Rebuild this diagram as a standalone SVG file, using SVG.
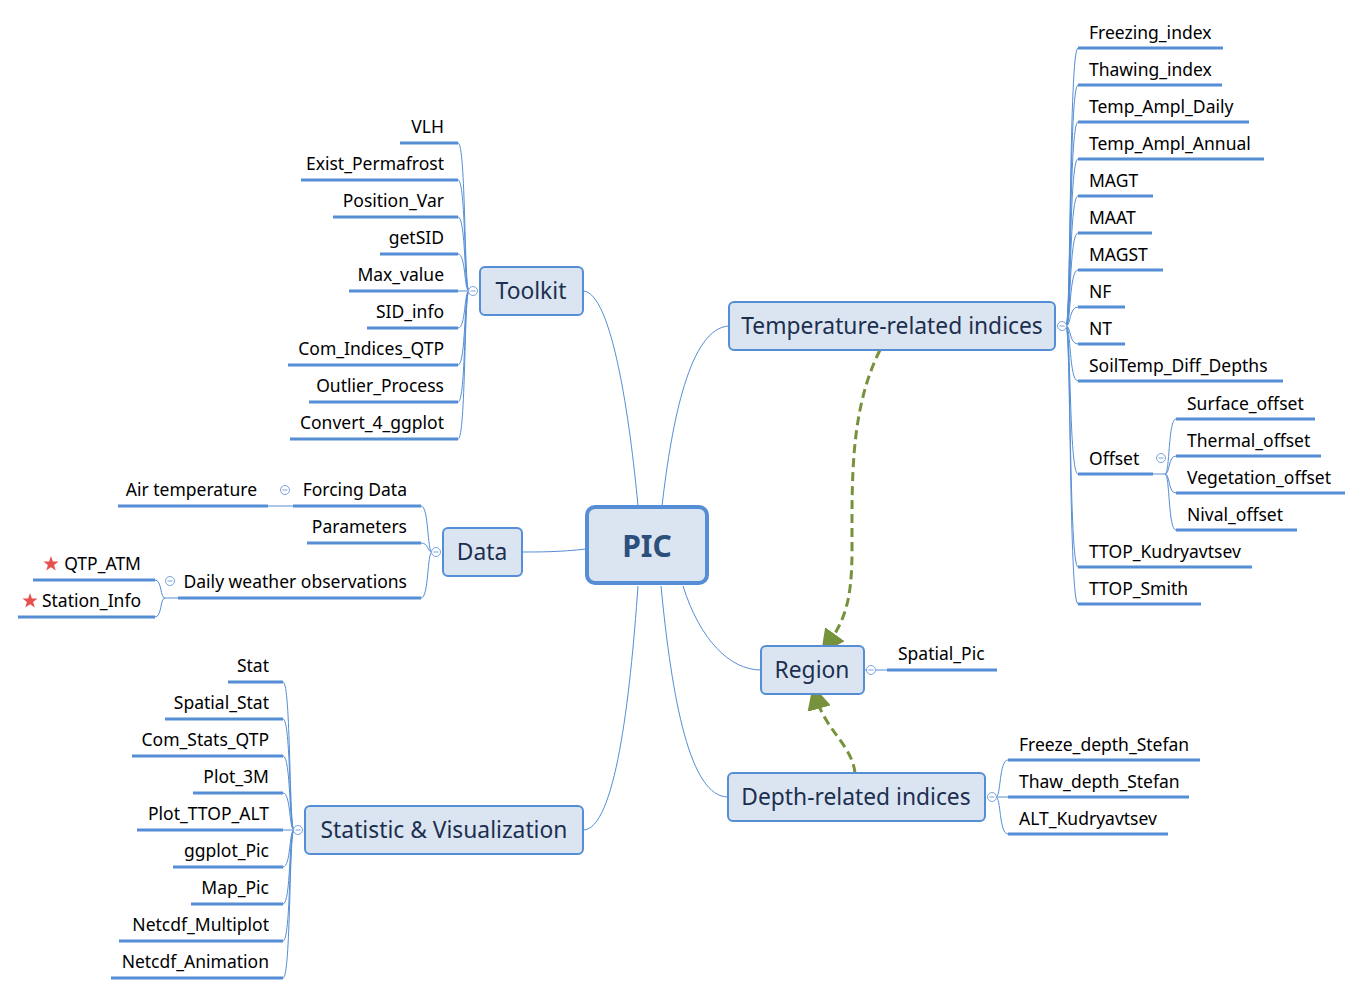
<svg xmlns="http://www.w3.org/2000/svg" width="1363" height="995" viewBox="0 0 1363 995">
<style>
.leaf{font-family:"Noto Sans","Open Sans","Liberation Sans",sans-serif;font-size:17.5px;fill:#000}
.topic{font-family:"Noto Sans","Open Sans","Liberation Sans",sans-serif;font-size:22.8px;fill:#1c2f4f}
.box{fill:#dbe5f1;stroke:#558ed5;stroke-width:2}
.ul{stroke:#558ed5;stroke-width:3;fill:none}
.cn{stroke:#558ed5;stroke-width:1;fill:none}
.col{fill:#fff;stroke:#7aa3dc;stroke-width:1}
.rel{stroke:#76923c;stroke-width:3;fill:none;stroke-dasharray:9 5}
.end{text-anchor:end}
</style>
<defs>
<marker id="ah" markerWidth="8" markerHeight="8" refX="4" refY="4" orient="auto" markerUnits="strokeWidth">
<path d="M0,0 L8,4 L0,8 Z" fill="#76923c"/>
</marker>
<g id="minus"><circle r="4.5" class="col"/><line x1="-2.5" y1="0" x2="2.5" y2="0" stroke="#7aa3dc" stroke-width="1"/></g>
<path id="star" d="M0,-8 L1.9,-2.6 L7.6,-2.5 L3.1,1 L4.7,6.5 L0,3.3 L-4.7,6.5 L-3.1,1 L-7.6,-2.5 L-1.9,-2.6 Z" fill="#e8504f"/>
</defs>
<rect width="1363" height="995" fill="#fff"/>

<g id="connectors">
<!-- main branches -->
<path class="cn" d="M638,506 C630,420 612,292 583,291"/>
<path class="cn" d="M662,506 C672,420 690,328 729,326"/>
<path class="cn" d="M586,549 C560,552 540,552 522,552"/>
<path class="cn" d="M683,586 C700,640 730,670 761,670"/>
<path class="cn" d="M661,586 C672,700 690,797 728,797"/>
<path class="cn" d="M638,586 C630,700 615,830 583,830"/>
<!-- relationships -->
<path class="rel" d="M880,350 C850,410 852,480 852,550 C852,600 845,620 828,644" marker-end="url(#ah)"/>
<path class="rel" d="M855,773 C852,745 825,730 816,697" marker-end="url(#ah)"/>
<!-- Toolkit -->
<path class="cn" d="M469,291 C464,291 466,143 458,143 M469,291 C464,291 466,180 458,180 M469,291 C464,291 466,217 458,217 M469,291 C464,291 466,254 458,254 M469,291 L458,291 M469,291 C464,291 466,328 458,328 M469,291 C464,291 466,365 458,365 M469,291 C464,291 466,402 458,402 M469,291 C464,291 466,439 458,439"/>
<!-- Data -->
<path class="cn" d="M432,552 C427,552 429,506 421,506 M432,552 C427,552 429,543 421,543 M432,552 C427,552 429,598 421,598 M268,506 L293,506"/>
<path class="cn" d="M178,598 L165,598 C160,598 162,580 155,580 M165,598 C160,598 162,617 155,617"/>
<!-- Stat -->
<path class="cn" d="M294,830 C289,830 291,682 283,682 M294,830 C289,830 291,719 283,719 M294,830 C289,830 291,756 283,756 M294,830 C289,830 291,793 283,793 M294,830 L283,830 M294,830 C289,830 291,867 283,867 M294,830 C289,830 291,904 283,904 M294,830 C289,830 291,941 283,941 M294,830 C289,830 291,978 283,978"/>
<!-- Temperature -->
<path class="cn" d="M1066,326 C1071,326 1069,48 1078,48 M1066,326 C1071,326 1069,85 1078,85 M1066,326 C1071,326 1069,122 1078,122 M1066,326 C1071,326 1069,159 1078,159 M1066,326 C1071,326 1069,196 1078,196 M1066,326 C1071,326 1069,233 1078,233 M1066,326 C1071,326 1069,270 1078,270 M1066,326 C1071,326 1069,307 1078,307 M1066,326 C1071,326 1069,344 1078,344 M1066,326 C1071,326 1069,381 1078,381 M1066,326 C1071,326 1069,474 1078,474 M1066,326 C1071,326 1069,567 1078,567 M1066,326 C1071,326 1069,604 1078,604"/>
<!-- Offset -->
<path class="cn" d="M1153,474 L1165,474 C1170,474 1168,419 1176,419 M1165,474 C1170,474 1168,456 1176,456 M1165,474 C1170,474 1168,493 1176,493 M1165,474 C1170,474 1168,530 1176,530"/>
<!-- Region -->
<path class="cn" d="M864,670 L887,670"/>
<!-- Depth -->
<path class="cn" d="M996,797 C1001,797 999,760 1008,760 M996,797 L1008,797 M996,797 C1001,797 999,834 1008,834"/>
</g>

<g id="PIC">
<rect x="587" y="507" width="120" height="76" rx="8" fill="#dbe5f1" stroke="#558ed5" stroke-width="4"/>
<text x="647" y="557" text-anchor="middle" style="font-family:'Noto Sans','Open Sans',sans-serif;font-size:30px;font-weight:bold;fill:#2c4f7c">PIC</text>
</g>

<g id="Toolkit">
<rect class="box" x="480" y="267" width="103" height="48" rx="5"/>
<text class="topic" x="531" y="299" text-anchor="middle">Toolkit</text>
<use href="#minus" x="473" y="291"/>
</g>
<g id="toolkit-children">
<path class="ul" d="M400,143H458 M301,180H458 M333,217H458 M380,254H458 M349,291H458 M367,328H458 M288,365H458 M309,402H458 M290,439H458"/>
<text class="leaf end" x="444" y="133">VLH</text>
<text class="leaf end" x="444" y="170">Exist_Permafrost</text>
<text class="leaf end" x="444" y="207">Position_Var</text>
<text class="leaf end" x="444" y="244">getSID</text>
<text class="leaf end" x="444" y="281">Max_value</text>
<text class="leaf end" x="444" y="318">SID_info</text>
<text class="leaf end" x="444" y="355">Com_Indices_QTP</text>
<text class="leaf end" x="444" y="392">Outlier_Process</text>
<text class="leaf end" x="444" y="429">Convert_4_ggplot</text>
</g>

<g id="Data">
<rect class="box" x="443" y="528" width="79" height="48" rx="5"/>
<text class="topic" x="482" y="560" text-anchor="middle">Data</text>
<use href="#minus" x="436" y="552"/>
</g>
<g id="data-children">
<path class="ul" d="M293,506H421 M118,506H268 M307,543H421 M178,598H421 M33,580H155 M18,617H155"/>
<text class="leaf end" x="407" y="496">Forcing Data</text>
<text class="leaf end" x="257" y="496">Air temperature</text>
<use href="#minus" x="285" y="490"/>
<text class="leaf end" x="407" y="533">Parameters</text>
<text class="leaf end" x="407" y="588">Daily weather observations</text>
<use href="#minus" x="170" y="581"/>
<use href="#star" x="51" y="564"/>
<text class="leaf end" x="141" y="570">QTP_ATM</text>
<use href="#star" x="30" y="601"/>
<text class="leaf end" x="141" y="607">Station_Info</text>
</g>

<g id="Stat">
<rect class="box" x="305" y="806" width="278" height="48" rx="5"/>
<text class="topic" x="444" y="838" text-anchor="middle">Statistic &amp; Visualization</text>
<use href="#minus" x="298" y="830"/>
</g>
<g id="stat-children">
<path class="ul" d="M228,682H283 M165,719H283 M132,756H283 M193,793H283 M137,830H283 M173,867H283 M191,904H283 M119,941H283 M111,978H283"/>
<text class="leaf end" x="269" y="672">Stat</text>
<text class="leaf end" x="269" y="709">Spatial_Stat</text>
<text class="leaf end" x="269" y="746">Com_Stats_QTP</text>
<text class="leaf end" x="269" y="783">Plot_3M</text>
<text class="leaf end" x="269" y="820">Plot_TTOP_ALT</text>
<text class="leaf end" x="269" y="857">ggplot_Pic</text>
<text class="leaf end" x="269" y="894">Map_Pic</text>
<text class="leaf end" x="269" y="931">Netcdf_Multiplot</text>
<text class="leaf end" x="269" y="968">Netcdf_Animation</text>
</g>

<g id="Temperature">
<rect class="box" x="729" y="302" width="326" height="48" rx="5"/>
<text class="topic" x="892" y="334" text-anchor="middle">Temperature-related indices</text>
<use href="#minus" x="1062" y="326"/>
</g>
<g id="temp-children">
<path class="ul" d="M1078,48H1223 M1078,85H1222 M1078,122H1249 M1078,159H1264 M1078,196H1153 M1078,233H1152 M1078,270H1163 M1078,307H1125 M1078,344H1125 M1078,381H1283 M1078,474H1153 M1078,567H1252 M1078,604H1201"/>
<text class="leaf" x="1089" y="39">Freezing_index</text>
<text class="leaf" x="1089" y="76">Thawing_index</text>
<text class="leaf" x="1089" y="113">Temp_Ampl_Daily</text>
<text class="leaf" x="1089" y="150">Temp_Ampl_Annual</text>
<text class="leaf" x="1089" y="187">MAGT</text>
<text class="leaf" x="1089" y="224">MAAT</text>
<text class="leaf" x="1089" y="261">MAGST</text>
<text class="leaf" x="1089" y="298">NF</text>
<text class="leaf" x="1089" y="335">NT</text>
<text class="leaf" x="1089" y="372">SoilTemp_Diff_Depths</text>
<text class="leaf" x="1089" y="465">Offset</text>
<use href="#minus" x="1161" y="458"/>
<text class="leaf" x="1089" y="558">TTOP_Kudryavtsev</text>
<text class="leaf" x="1089" y="595">TTOP_Smith</text>
</g>
<g id="offset-children">
<path class="ul" d="M1176,419H1315 M1176,456H1321 M1176,493H1345 M1176,530H1297"/>
<text class="leaf" x="1187" y="410">Surface_offset</text>
<text class="leaf" x="1187" y="447">Thermal_offset</text>
<text class="leaf" x="1187" y="484">Vegetation_offset</text>
<text class="leaf" x="1187" y="521">Nival_offset</text>
</g>

<g id="Region">
<rect class="box" x="761" y="646" width="103" height="48" rx="5"/>
<text class="topic" x="812" y="678" text-anchor="middle">Region</text>
<use href="#minus" x="871" y="670"/>
<path class="ul" d="M887,670H997"/>
<text class="leaf" x="898" y="660">Spatial_Pic</text>
</g>

<g id="Depth">
<rect class="box" x="728" y="773" width="257" height="48" rx="5"/>
<text class="topic" x="856" y="805" text-anchor="middle">Depth-related indices</text>
<use href="#minus" x="992" y="797"/>
</g>
<g id="depth-children">
<path class="ul" d="M1008,760H1200 M1008,797H1189 M1008,834H1168"/>
<text class="leaf" x="1019" y="751">Freeze_depth_Stefan</text>
<text class="leaf" x="1019" y="788">Thaw_depth_Stefan</text>
<text class="leaf" x="1019" y="825">ALT_Kudryavtsev</text>
</g>
</svg>
